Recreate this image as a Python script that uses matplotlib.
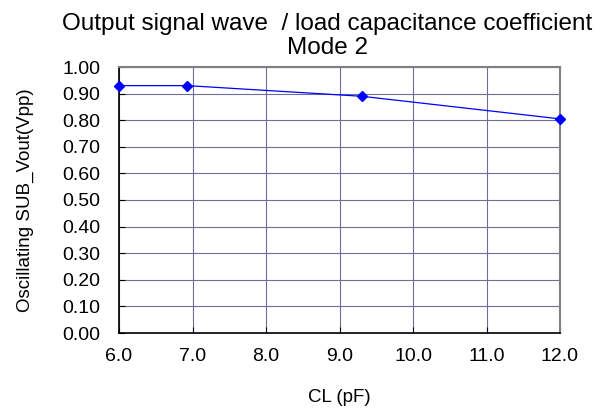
import numpy as np
import matplotlib.pyplot as plt

plt.rcParams['font.family'] = ['Liberation Sans', 'DejaVu Sans']

# data
cl_pf = [6.0, 6.93, 9.3, 12.0]
vout_vpp = [0.93, 0.93, 0.89, 0.805]

x_ticks = [6.0, 7.0, 8.0, 9.0, 10.0, 11.0, 12.0]
y_ticks = np.round(np.arange(0.0, 1.01, 0.1), 2)

fig = plt.figure(figsize=(6.11, 4.13), dpi=100)
ax = fig.add_axes([119 / 611, 1 - 333 / 413, (560 - 119) / 611, (333 - 67) / 413])

ax.plot(cl_pf, vout_vpp, color='#0000FF', linewidth=0.9, marker='D',
        markersize=5.5, markerfacecolor='#0000FF', markeredgecolor='#0000FF',
        clip_on=False, zorder=5)

ax.set_xlim(6.0, 12.0)
ax.set_ylim(0.0, 1.0)
ax.set_xticks(x_ticks)
ax.set_yticks(y_ticks)
ax.set_xticklabels([f"{v:.1f}" for v in x_ticks])
ax.set_yticklabels([f"{v:.2f}" for v in y_ticks])

ax.grid(True, color='#6E6E9E', linewidth=0.8)
ax.set_axisbelow(True)

for side in ['left', 'bottom']:
    ax.spines[side].set_color('black')
    ax.spines[side].set_linewidth(1.2)
for side in ['top', 'right']:
    ax.spines[side].set_color('#808080')
    ax.spines[side].set_linewidth(1.5)

ax.tick_params(axis='both', direction='in', length=4, width=0.8,
               labelsize=14, colors='black')
ax.tick_params(axis='x', pad=11)
ax.tick_params(axis='y', pad=13.5)

ax.set_xlabel('CL (pF)', fontsize=13.5, labelpad=17)
ax.set_ylabel('Oscillating SUB_Vout(Vpp)', fontsize=13.5, labelpad=20)
ax.set_title('Output signal wave  / load capacitance coefficient\nMode 2',
             fontsize=17.5, pad=9, x=0.473, linespacing=1.15)

fig.savefig('out.png', dpi=100)
